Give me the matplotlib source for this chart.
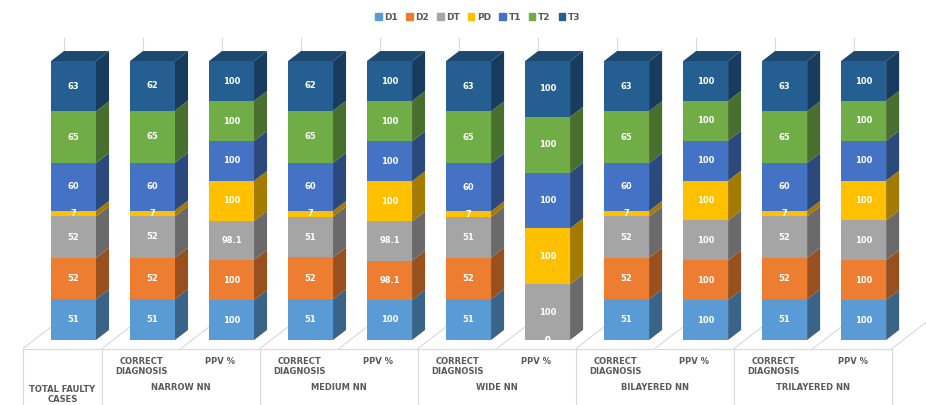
import matplotlib
matplotlib.use("Agg")
import matplotlib.pyplot as plt
import matplotlib.patches as mpatches
import matplotlib.colors as mcolors
import numpy as np

series = ["D1", "D2", "DT", "PD", "T1", "T2", "T3"]
colors = ["#5B9BD5", "#ED7D31", "#A5A5A5", "#FFC000", "#4472C4", "#70AD47", "#255E91"]

sub_labels = ["", "CORRECT\nDIAGNOSIS", "PPV %", "CORRECT\nDIAGNOSIS", "PPV %",
              "CORRECT\nDIAGNOSIS", "PPV %", "CORRECT\nDIAGNOSIS", "PPV %",
              "CORRECT\nDIAGNOSIS", "PPV %"]
groups = ["TOTAL FAULTY\nCASES", "NARROW NN", "MEDIUM NN", "WIDE NN",
          "BILAYERED NN", "TRILAYERED NN"]
group_sizes = [1, 2, 2, 2, 2, 2]

# one row per column, values in series order D1..T3
total_faulty = [51, 52, 52, 7, 60, 65, 63]
narrow_correct = [51, 52, 52, 7, 60, 65, 62]
narrow_ppv = [100, 100, 98.1, 100, 100, 100, 100]
medium_correct = [51, 52, 51, 7, 60, 65, 62]
medium_ppv = [100, 98.1, 98.1, 100, 100, 100, 100]
wide_correct = [51, 52, 51, 7, 60, 65, 63]
wide_ppv = [0, 0, 100, 100, 100, 100, 100]
bilayer_correct = [51, 52, 52, 7, 60, 65, 63]
bilayer_ppv = [100, 100, 100, 100, 100, 100, 100]
trilayer_correct = [51, 52, 52, 7, 60, 65, 63]
trilayer_ppv = [100, 100, 100, 100, 100, 100, 100]

columns = [total_faulty, narrow_correct, narrow_ppv, medium_correct, medium_ppv,
           wide_correct, wide_ppv, bilayer_correct, bilayer_ppv,
           trilayer_correct, trilayer_ppv]

# oblique projection: depth z shifts right and up
DX, DY = 0.165, 3.6
BAR_W = 0.57
Z_FLOOR = -0.85
Z_WALL = 2.3
LINE = "#D9D9D9"
TXT = "#595959"


def shade(c, f):
    r, g, b = mcolors.to_rgb(c)
    return (r * f, g * f, b * f)


def fmt(v):
    return ("%g" % v)


fig = plt.figure(figsize=(9.26, 4.05), dpi=100)
ax = fig.add_axes([0, 0, 1, 1])
ax.set_xlim(-0.93, 10.79)
ax.set_ylim(-23.3, 121.9)
ax.axis("off")

n = len(columns)

# back wall gridlines and floor diagonals at category boundaries
for k in range(n + 1):
    xb = k - 0.5
    ax.plot([xb + Z_WALL * DX] * 2, [Z_WALL * DY, 100 + Z_WALL * DY],
            color=LINE, lw=0.8, zorder=0)
    ax.plot([xb + Z_FLOOR * DX, xb + Z_WALL * DX],
            [Z_FLOOR * DY, Z_WALL * DY], color=LINE, lw=0.8, zorder=0)

# category table under the floor
fy = Z_FLOOR * DY
fx0 = -0.5 + Z_FLOOR * DX
fx1 = n - 0.5 + Z_FLOOR * DX
ax.plot([fx0, fx1], [fy, fy], color=LINE, lw=0.8, zorder=1)
bounds = np.concatenate([[0], np.cumsum(group_sizes)]) - 0.5
for b in bounds:
    ax.plot([b + Z_FLOOR * DX] * 2, [fy, -23.3], color=LINE, lw=0.8, zorder=1)

for i, lab in enumerate(sub_labels):
    if lab:
        ax.text(i + Z_FLOOR * DX, -6.2, lab, ha="center", va="top", fontsize=6,
                fontweight="bold", color=TXT, linespacing=1.15)
for g, lab in enumerate(groups):
    cx = (bounds[g] + bounds[g + 1]) / 2 + Z_FLOOR * DX
    if "\n" in lab:
        ax.text(cx, -19.4, lab, ha="center", va="center", fontsize=6,
                fontweight="bold", color=TXT, linespacing=1.15)
    else:
        ax.text(cx, -17.2, lab, ha="center", va="center", fontsize=6,
                fontweight="bold", color=TXT)

# 100% stacked 3D columns
for i, vals in enumerate(columns):
    vals = np.array(vals, dtype=float)
    pct = vals / vals.sum() * 100
    tops = np.cumsum(pct)
    bots = tops - pct
    xl, xr = i - BAR_W / 2, i + BAR_W / 2
    clip = mpatches.Rectangle((xl, 0), BAR_W, 100, transform=ax.transData)
    for j, (y0, y1) in enumerate(zip(bots, tops)):
        c = colors[j]
        ax.add_patch(mpatches.Rectangle((xl, y0), BAR_W, y1 - y0, facecolor=c,
                                        edgecolor="none", zorder=3))
        side = [(xr, y0), (xr + DX, y0 + DY), (xr + DX, y1 + DY), (xr, y1)]
        ax.add_patch(mpatches.Polygon(side, closed=True, facecolor=shade(c, 0.64),
                                      edgecolor="none", zorder=3))
        t = ax.text(i, (y0 + y1) / 2, fmt(vals[j]), ha="center", va="center",
                    fontsize=6, fontweight="bold", color="white", zorder=5)
        t.set_clip_path(clip)
    c = colors[-1]
    top = [(xl, 100), (xl + DX, 100 + DY), (xr + DX, 100 + DY), (xr, 100)]
    ax.add_patch(mpatches.Polygon(top, closed=True, facecolor=shade(c, 0.78),
                                  edgecolor="none", zorder=3))

handles = [mpatches.Patch(color=c, label=s) for s, c in zip(series, colors)]
leg = fig.legend(handles=handles, loc="center", bbox_to_anchor=(0.516, 0.958),
                 ncol=7, frameon=False, fontsize=6.5, handlelength=0.7,
                 handleheight=0.7, handletextpad=0.3, columnspacing=0.9)
for t in leg.get_texts():
    t.set_color(TXT)
    t.set_fontweight("bold")

fig.savefig("out.png", dpi=100)
